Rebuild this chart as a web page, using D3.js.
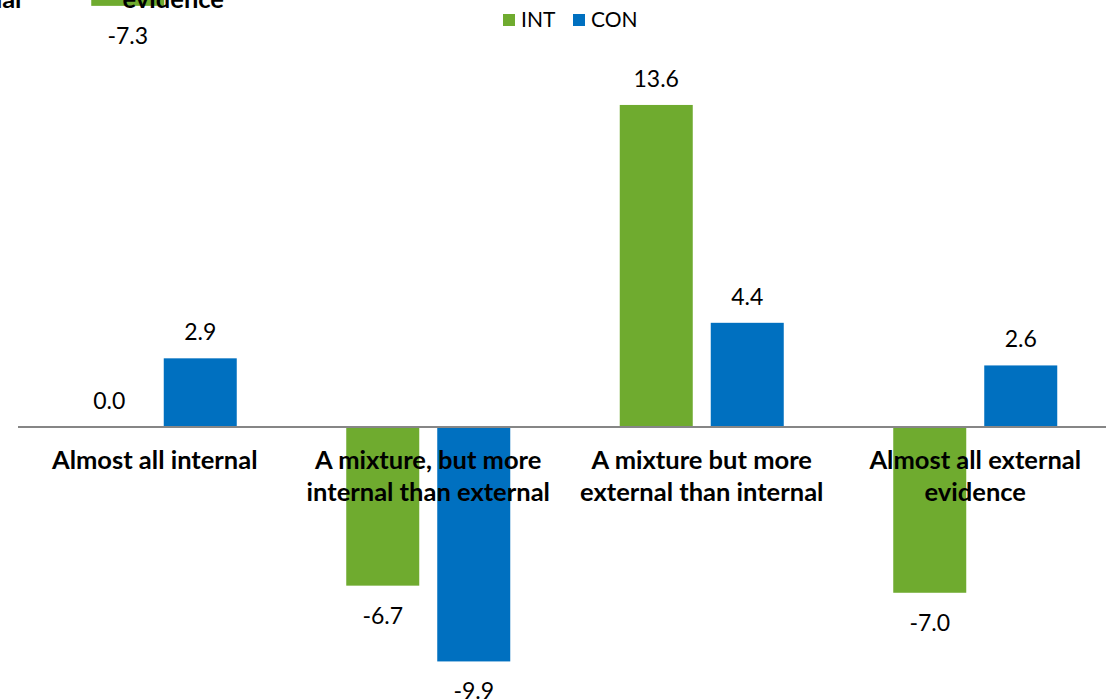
<!DOCTYPE html>
<html>
<head>
<meta charset="utf-8">
<script src="https://cdn.jsdelivr.net/npm/d3@7"></script>
<style>
  html, body { margin: 0; padding: 0; background: #fff; }
  svg { display: block; }
  text { font-family: Lato, "Open Sans", sans-serif; fill: #000; }
</style>
</head>
<body>
<svg id="chart" width="1106" height="700"></svg>
<script>
// Category labels, one entry per line
const categories = [
  ["Almost all internal"],
  ["A mixture, but more", "internal than external"],
  ["A mixture but more", "external than internal"],
  ["Almost all external", "evidence"]
];
const seriesNames = ["INT", "CON"];
const intValues = [0.0, -6.7, 13.6, -7.0];
const conValues = [2.9, -9.9, 4.4, 2.6];

// Bottom edge of the preceding panel that sits above this one
const prevCategories = [
  ["A mixture but more", "external than internal"],
  ["Almost all external", "evidence"]
];
const prevIntValues = [null, -7.3];

const colors = { INT: "#6fab2f", CON: "#0070c0" };

const svg = d3.select("#chart");
const W = 1106;

// Scales
const x0 = d3.scaleBand()
  .domain(d3.range(categories.length))
  .range([18, 1112])
  .paddingInner(0)
  .paddingOuter(0);
const x1 = d3.scaleBand()
  .domain(seriesNames)
  .range([54.75, x0.bandwidth() - 54.75])
  .paddingInner(18 / 91)
  .paddingOuter(0);
const y = d3.scaleLinear().domain([-10, 15]).range([663.8, 71.8]);

const fmt = v => d3.format(".1f")(v).replace("−", "-");

const rows = categories.map((c, i) => ({
  i, lines: c,
  vals: [{ s: "INT", v: intValues[i] }, { s: "CON", v: conValues[i] }]
}));

// Bars
const g = svg.append("g");
const groups = g.selectAll("g.cat").data(rows).join("g")
  .attr("class", "cat")
  .attr("transform", d => `translate(${x0(d.i)},0)`);

groups.selectAll("rect").data(d => d.vals).join("rect")
  .attr("x", d => x1(d.s))
  .attr("width", x1.bandwidth())
  .attr("y", d => y(Math.max(0, d.v)))
  .attr("height", d => Math.abs(y(d.v) - y(0)))
  .attr("fill", d => colors[d.s]);

// Value labels
groups.selectAll("text.val").data(d => d.vals).join("text")
  .attr("class", "val")
  .attr("x", d => x1(d.s) + x1.bandwidth() / 2)
  .attr("y", d => d.v >= 0 ? y(d.v) - 18 : y(d.v) + 38)
  .attr("text-anchor", "middle")
  .style("font-size", "23px")
  .text(d => fmt(d.v));

// Zero axis line
svg.append("line")
  .attr("x1", 18).attr("x2", W)
  .attr("y1", y(0)).attr("y2", y(0))
  .attr("stroke", "#868686")
  .attr("stroke-width", 2);

// Category labels
groups.append("text")
  .attr("class", "cat-label")
  .attr("text-anchor", "middle")
  .style("font-size", "25.5px")
  .style("font-weight", "bold")
  .selectAll("tspan").data(d => d.lines).join("tspan")
  .attr("x", x0.bandwidth() / 2)
  .attr("y", (d, k) => 469 + k * 32)
  .text(d => d);

// Preceding panel (only its lower edge is in view)
const prevDx = -802, prevDy = -594;
const prev = svg.append("g").attr("transform", `translate(${prevDx},${prevDy})`);
const prevRows = prevCategories.map((c, k) => ({ i: k + 2, lines: c, v: prevIntValues[k] }));
const pg = prev.selectAll("g").data(prevRows).join("g")
  .attr("transform", d => `translate(${x0(d.i)},0)`);
pg.filter(d => d.v !== null).append("rect")
  .attr("x", x1("INT"))
  .attr("width", x1.bandwidth())
  .attr("y", y(0))
  .attr("height", d => y(d.v) - y(0))
  .attr("fill", colors.INT);
pg.filter(d => d.v !== null).append("text")
  .attr("x", x1("INT") + x1.bandwidth() / 2)
  .attr("y", d => y(d.v) + 38)
  .attr("text-anchor", "middle")
  .style("font-size", "23px")
  .text(d => fmt(d.v));
pg.append("text")
  .attr("text-anchor", "middle")
  .style("font-size", "25.5px")
  .style("font-weight", "bold")
  .selectAll("tspan").data(d => d.lines).join("tspan")
  .attr("x", x0.bandwidth() / 2)
  .attr("y", (d, k) => 570 + k * 32)
  .text(d => d);

// Legend
const legend = svg.append("g").attr("transform", "translate(503,14)");
const items = legend.selectAll("g").data(seriesNames).join("g")
  .attr("transform", (d, i) => `translate(${i * 70},0)`);
items.append("rect").attr("width", 12).attr("height", 12).attr("fill", d => colors[d]);
items.append("text").attr("x", 18).attr("y", 13)
  .style("font-size", "21px")
  .text(d => d);
</script>
</body>
</html>
